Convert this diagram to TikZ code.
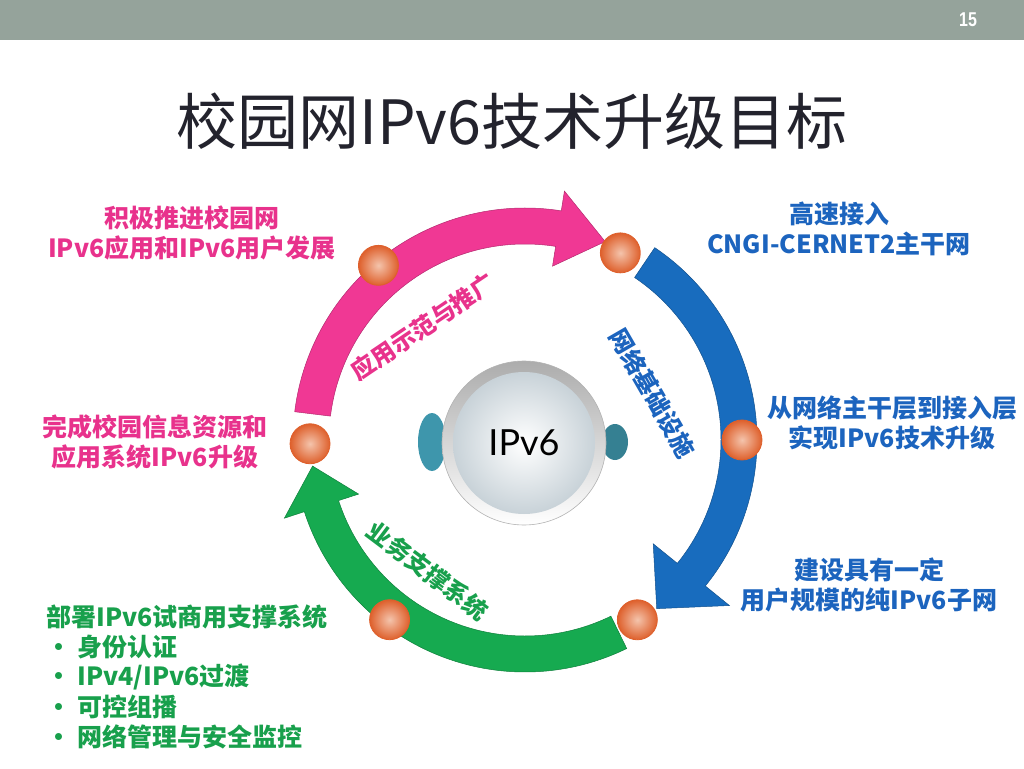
\documentclass[tikz,border=0pt]{standalone}
\usepackage{fontspec}
\setmainfont{Noto Sans CJK SC}
\newfontfamily\latofont{Lato}
\newfontfamily\numfont{Liberation Sans}
\definecolor{bargray}{RGB}{149,163,155}
\definecolor{titlecol}{RGB}{35,35,45}
\definecolor{pinkarc}{RGB}{240,56,148}
\definecolor{pinktxt}{RGB}{232,50,140}
\definecolor{bluearc}{RGB}{24,108,190}
\definecolor{bluetxt}{RGB}{28,100,190}
\definecolor{greenarc}{RGB}{22,170,80}
\definecolor{greentxt}{RGB}{24,160,76}
\definecolor{dotlight}{RGB}{244,196,172}
\definecolor{dotdark}{RGB}{222,96,44}
\definecolor{finteal}{RGB}{62,150,172}
\definecolor{spheregray}{RGB}{200,210,216}

\begin{document}
\begin{tikzpicture}[x=1pt, y=1pt]
	\tikzset{label/.style={font=\fontsize{25}{30}\selectfont\bfseries, align=center},
		arclabel/.style={font=\fontsize{24}{24}\selectfont\bfseries},
		dot/.style={circle, minimum size=40pt, inner sep=0pt, draw=dotdark, line width=0.8pt, inner color=dotlight, outer color=dotdark}}

	\useasboundingbox (-525,-328) rectangle (499,440);
	\fill[bargray] (-525,400) rectangle (499,440);
	\node[text=white, font=\numfont\bfseries\fontsize{20}{20}\selectfont] (page) at (443,420) {\scalebox{0.8}[1]{15}};
	\node[text=titlecol, font=\fontsize{61}{61}\selectfont] (title) at (-13,319) {校园网IPv6技术升级目标};

	% the three arrows of the cycle
	\foreach \s/\b/\t/\h/\col in {173/81/68/38/pinkarc, 56/-39/-52/49/bluearc, -64/-162/-173/39/greenarc}
	{
		\pgfmathsetmacro\ho{214+\h}
		\pgfmathsetmacro\hi{214-\h}
		\fill[\col, draw=\col!75!black, line width=0.5pt]
			(\s:232) arc[start angle=\s, end angle=\b, radius=232pt]
			-- (\b:\ho) -- (\t:214) -- (\b:\hi) -- (\b:196)
			arc[start angle=\b, end angle=\s, radius=196pt] -- cycle;
	}

	\node[arclabel, text=pinktxt, rotate=34] (demo) at (-102,113) {应用示范与推广};
	\node[arclabel, text=bluetxt, rotate=-60] (infra) at (128,47) {网络基础设施};
	\node[arclabel, text=greentxt, rotate=-37] (support) at (-97,-131) {业务支撑系统};

	\foreach \a/\r [count=\i] in {130/228, 63/210, 0/217, -58/212, 233/225, 181/215}
		\node[dot] (d\i) at (\a:\r) {};

	% centre sphere
	\fill[finteal] (-93,-2) ellipse[x radius=14pt, y radius=29pt];
	\fill[finteal!85!black] (90,-2) ellipse[x radius=13pt, y radius=18pt];
	\node[circle, minimum size=164pt, inner sep=0pt, top color=gray!65, bottom color=white, draw=gray!60, line width=0.6pt] (core) at (-1,-3) {};
	\node[circle, minimum size=142pt, inner sep=0pt, inner color=white, outer color=spheregray, font=\latofont\fontsize{36}{36}\selectfont] (ipv6) at (core) {IPv6};

	\node[label, text=pinktxt] (promote) at (-333,207) {积极推进校园网\\IPv6应用和IPv6用户发展};
	\node[label, text=pinktxt] (finish) at (-370,-2) {完成校园信息资源和\\应用系统IPv6升级};
	\node[label, text=bluetxt] (access) at (314,211) {高速接入\\CNGI-CERNET2主干网};
	\node[label, text=bluetxt] (upgrade) at (367,17) {从网络主干层到接入层\\实现IPv6技术升级};
	\node[label, text=bluetxt] (subnet) at (344,-145) {建设具有一定\\用户规模的纯IPv6子网};

	\node[label, text=greentxt, anchor=west] (deploy) at (-482,-177) {部署IPv6试商用支撑系统};
	\foreach \txt [count=\i] in {身份认证, IPv4/IPv6过渡, 可控组播, 网络管理与安全监控}
		\node[label, text=greentxt, anchor=west] (item\i) at (-482,-177-30*\i) {\makebox[31pt][l]{•}\txt};
\end{tikzpicture}
\end{document}
